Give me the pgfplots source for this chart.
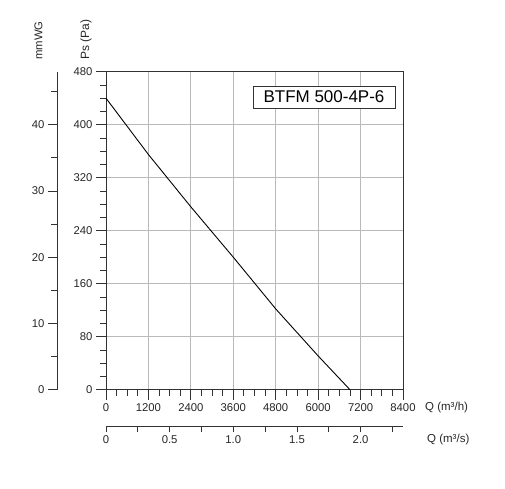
\documentclass[border=0pt]{standalone}
\usepackage{pgfplots}
\pgfplotsset{compat=1.18}
\usepackage{fontspec}
\setmainfont{Liberation Sans}
\definecolor{axc}{RGB}{50,50,50}
\definecolor{gridc}{RGB}{185,185,185}
\begin{document}
\begin{tikzpicture}[x=1pt,y=1pt]
\path (0,0) rectangle (505,488);
\pgfplotsset{every axis/.append style={
  /pgf/number format/assume math mode=true,
  /pgf/number format/set thousands separator={},
  scaled ticks=false,
  tick label style={font=\fontsize{11.3}{13}\selectfont, text=black!85},
  axis line style={axc, line width=0.8pt, -},
  every tick/.style={axc, line width=0.8pt},
  tick align=outside,
}}
% main axis
\begin{axis}[at={(106pt,98.3pt)}, anchor=south west, scale only axis,
  width=297pt, height=318pt,
  xmin=0, xmax=8400, ymin=0, ymax=480,
  xtick={0,1200,...,8400}, minor x tick num=3,
  ytick={0,80,...,480}, minor y tick num=3,
  xtick pos=bottom, ytick pos=left,
  major tick length=10pt, minor tick length=6pt,
  grid=major, major grid style={gridc, line width=0.9pt},
  clip=false]
\addplot[black, line width=0.9pt] coordinates {
(0,440) (1200,355) (2400,276) (3600,200) (4800,122) (6000,51) (6900,0)};
\end{axis}
% mmWG axis
\begin{axis}[at={(57pt,98.3pt)}, anchor=south west, scale only axis,
  width=1pt, height=318pt,
  xmin=0, xmax=1, ymin=0, ymax=48,
  hide x axis, axis y line*=left,
  ytick={0,10,...,40}, minor ytick={5,15,25,35,45},
  major tick length=9pt, minor tick length=6pt]
\end{axis}
% m3/s axis
\begin{axis}[at={(106pt,62pt)}, anchor=south west, scale only axis,
  width=297pt, height=1pt,
  xmin=0, xmax=2.33333, ymin=0, ymax=1,
  hide y axis, axis x line*=bottom,
  xtick={0,0.5,1,1.5,2}, xticklabels={0,0.5,1.0,1.5,2.0},
  minor xtick={0.25,0.75,1.25,1.75,2.25},
  major tick length=6pt, minor tick length=6pt]
\end{axis}
\node[rotate=90, anchor=west, inner sep=0, font=\fontsize{12}{14}\selectfont, text=black!85] at (86,428) {Ps (Pa)};
\node[rotate=90, anchor=west, inner sep=0, font=\fontsize{11.3}{14}\selectfont, text=black!85] at (38.5,428) {mmWG};
\node[anchor=west, inner sep=0, font=\fontsize{11.5}{14}\selectfont, text=black!85] at (425,80) {Q (m³/h)};
\node[anchor=west, inner sep=0, font=\fontsize{11.5}{14}\selectfont, text=black!85] at (427,48) {Q (m³/s)};
\draw[axc, line width=0.8pt, fill=white] (253,380) rectangle (395,402);
\node[inner sep=0, font=\fontsize{17}{20}\selectfont] at (324,391) {BTFM 500-4P-6};
\end{tikzpicture}
\end{document}
